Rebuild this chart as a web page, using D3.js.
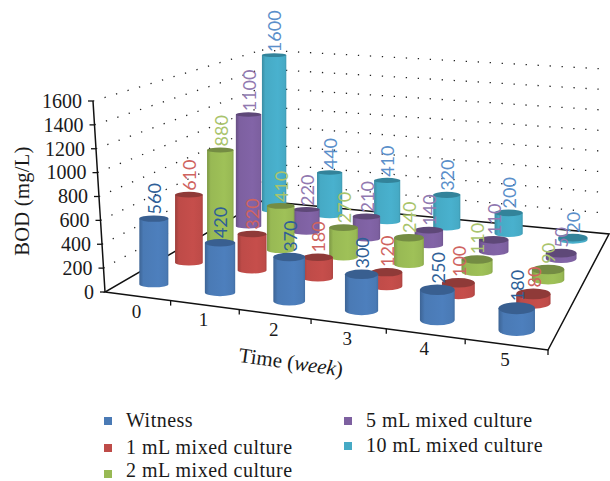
<!DOCTYPE html>
<html>
<head>
<meta charset="utf-8">
<script src="https://cdn.jsdelivr.net/npm/d3@7"></script>
<style>
  body { margin: 0; background: #fff; }
  text { font-family: "Liberation Serif", serif; fill: #1a1a1a; }
  .val { font-family: Lato, sans-serif; font-size: 18px; }
</style>
</head>
<body>
<script>
const weeks = ["0", "1", "2", "3", "4", "5"];
const seriesNames = ["Witness", "1 mL mixed culture", "2 mL mixed culture", "5 mL mixed culture", "10 mL mixed culture"];
const witness = [560, 420, 370, 300, 250, 180];
const ml1 = [610, 320, 180, 120, 100, 80];
const ml2 = [880, 410, 270, 240, 110, 90];
const ml5 = [1100, 220, 210, 140, 110, 50];
const ml10 = [1600, 440, 410, 320, 200, 20];
const yTicks = [0, 200, 400, 600, 800, 1000, 1200, 1400, 1600];
const colors = ["#4a7ab5", "#be4b48", "#98b954", "#7d60a0", "#46aac5"];
const topColors = ["#395f90", "#8f3a38", "#748c43", "#5e4878", "#33839a"];
const labelColors = ["#2f5f97", "#cf6360", "#a9c46c", "#9179b0", "#5b8fca"];
const allSeries = [witness, ml1, ml2, ml5, ml10];

const width = 610, height = 481;
const svg = d3.select("body").append("svg").attr("width", width).attr("height", height);

// the box corners on screen: front-left, front-right, back-right, back-left
const floor = [[105, 292], [548, 350], [609, 234], [262, 201]];
const ceil = [[93, 101], [541, 155], [605, 69], [262, 50]];

// unit square -> quad
function homography(q) {
  const [[x0, y0], [x1, y1], [x2, y2], [x3, y3]] = q;
  const dx1 = x1 - x2, dx2 = x3 - x2, sx = x0 - x1 + x2 - x3;
  const dy1 = y1 - y2, dy2 = y3 - y2, sy = y0 - y1 + y2 - y3;
  const det = dx1 * dy2 - dx2 * dy1;
  const g = (sx * dy2 - dx2 * sy) / det;
  const h = (dx1 * sy - sx * dy1) / det;
  return (u, v) => {
    const d = g * u + h * v + 1;
    return [
      ((x1 - x0 + g * x1) * u + (x3 - x0 + h * x3) * v + x0) / d,
      ((y1 - y0 + g * y1) * u + (y3 - y0 + h * y3) * v + y0) / d
    ];
  };
}
const hFloor = homography(floor), hCeil = homography(ceil);
const project = (u, v, w) => {
  const a = hFloor(u, v), b = hCeil(u, v);
  return [a[0] + (b[0] - a[0]) * w, a[1] + (b[1] - a[1]) * w];
};

const uScale = d3.scaleBand().domain(weeks).range([0, 1]);
const vScale = d3.scaleBand().domain(seriesNames).range([0, 1]);
const wScale = d3.scaleLinear().domain([0, 1600]).range([0, 1]);
// columns sit a little left of the band centres in the reference
const barU = d3.scaleLinear().domain([0, 1]).range([-0.008, 1.004]);
const line = d3.line();

// gradients for the cylinder sides
const defs = svg.append("defs");
colors.forEach((c, i) => {
  const g = defs.append("linearGradient").attr("id", "side" + i);
  g.append("stop").attr("offset", 0).attr("stop-color", d3.color(c).darker(0.55));
  g.append("stop").attr("offset", 0.14).attr("stop-color", c);
  g.append("stop").attr("offset", 0.65).attr("stop-color", d3.color(c).brighter(0.12));
  g.append("stop").attr("offset", 0.93).attr("stop-color", c);
  g.append("stop").attr("offset", 1).attr("stop-color", d3.color(c).darker(0.3));
});

// dotted walls
const grid = svg.append("g").attr("fill", "none").attr("stroke", "#222")
  .attr("stroke-width", 1.3).attr("stroke-dasharray", "1.3 10.7").attr("stroke-dashoffset", -12);
yTicks.slice(1).forEach(t => {
  const w = wScale(t);
  grid.append("path").attr("d", line([project(0, 0, w), project(0, 1, w)]));
  grid.append("path").attr("d", line([project(0, 1, w), project(1, 1, w)]));
});

// floor outline
svg.append("path")
  .attr("d", line([[0, 0], [1, 0], [1, 1], [0, 1]].map(p => project(p[0], p[1], 0))) + "Z")
  .attr("fill", "#fff").attr("stroke", "#111").attr("stroke-width", 1.5);

// y axis
const yAxis = svg.append("g");
yAxis.append("path")
  .attr("d", line([project(0, 0, 0), project(0, 0, 1)]))
  .attr("stroke", "#111").attr("stroke-width", 1.5);
yTicks.forEach(t => {
  const p = project(0, 0, wScale(t));
  yAxis.append("line").attr("x1", p[0] - 5).attr("x2", p[0]).attr("y1", p[1]).attr("y2", p[1])
    .attr("stroke", "#111").attr("stroke-width", 1.3);
  yAxis.append("text").attr("x", p[0] - 11).attr("y", p[1]).attr("dy", ".34em")
    .attr("text-anchor", "end").attr("font-size", 20).text(t);
});
svg.append("text").attr("transform", "translate(29,201) rotate(-90)")
  .attr("text-anchor", "middle").attr("font-size", 20.5).attr("letter-spacing", 0.3).text("BOD (mg/L)");

// x ticks and labels
weeks.forEach((d, i) => {
  const p = project(uScale(d) + uScale.bandwidth(), 0, 0);
  svg.append("line").attr("x1", p[0]).attr("x2", p[0]).attr("y1", p[1]).attr("y2", p[1] + 5)
    .attr("stroke", "#111").attr("stroke-width", 1.3);
  const c = project(uScale(d) + uScale.bandwidth() / 2, 0, 0);
  svg.append("text").attr("x", c[0] - 1).attr("y", c[1] + 15).attr("dy", ".34em")
    .attr("text-anchor", "middle").attr("font-size", 19).text(d);
});
const xTitle = svg.append("text").attr("transform", "translate(290,369) rotate(8)")
  .attr("text-anchor", "middle").attr("font-size", 21);
xTitle.append("tspan").text("Time (");
xTitle.append("tspan").attr("font-style", "italic").text("week");
xTitle.append("tspan").text(")");

// cylinders, back row first
const bars = [];
seriesNames.forEach((s, j) => weeks.forEach((d, i) => {
  const u = barU(uScale(d) + uScale.bandwidth() / 2);
  const v = vScale(s) + vScale.bandwidth() / 2;
  const value = allSeries[j][i];
  const base = project(u, v, 0);
  // the columns stand upright, only y follows the perspective
  const top = [base[0], project(u, v, wScale(value))[1]];
  const next = project(u + uScale.bandwidth(), v, 0), prev = project(u - uScale.bandwidth(), v, 0);
  const du = Math.hypot(next[0] - prev[0], next[1] - prev[1]) / 2;
  const rx = 0.225 * du, ry = rx * (0.21 + 0.13 * u - 0.08 * (v - 0.1));
  bars.push({ i, j, value, base, top, rx, ry });
}));
bars.sort((a, b) => b.j - a.j || a.i - b.i);

const barG = svg.append("g").selectAll("g").data(bars).join("g");
barG.append("path")
  .attr("fill", d => `url(#side${d.j})`)
  .attr("d", d => `M${d.top[0] - d.rx},${d.top[1]}L${d.base[0] - d.rx},${d.base[1]}` +
    `A${d.rx},${d.ry} 0 0 0 ${d.base[0] + d.rx},${d.base[1]}L${d.top[0] + d.rx},${d.top[1]}Z`);
barG.append("ellipse")
  .attr("cx", d => d.top[0]).attr("cy", d => d.top[1])
  .attr("rx", d => d.rx).attr("ry", d => d.ry)
  .attr("fill", d => topColors[d.j]);

// value labels sit on top of all bars
svg.append("g").selectAll("text").data(bars).join("text")
  .attr("class", "val")
  .attr("transform", d => `translate(${d.top[0] + 1},${d.top[1] - d.ry - 1}) rotate(-90)`)
  .attr("dy", ".35em")
  .style("fill", d => labelColors[d.j])
  .text(d => d.value);

// legend
const legendPos = [[104, 417], [104, 444], [104, 470], [344, 417], [344, 442]];
seriesNames.forEach((s, j) => {
  const [x, y] = legendPos[j];
  svg.append("rect").attr("x", x).attr("y", y).attr("width", 8).attr("height", 8).attr("fill", colors[j]);
  svg.append("text").attr("x", x + 22).attr("y", Math.min(y + 10, 476.5))
    .attr("font-size", 20).attr("letter-spacing", 0.5).text(s);
});
</script>
</body>
</html>
